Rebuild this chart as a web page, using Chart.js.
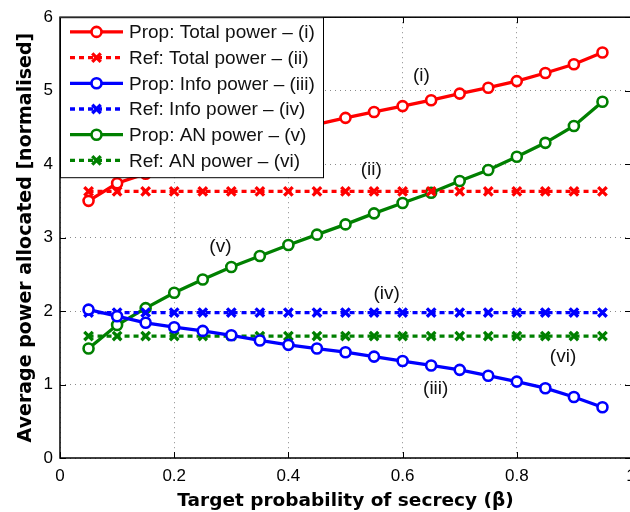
<!DOCTYPE html>
<html>
<head>
<meta charset="utf-8">
<title>Average power allocated</title>
<script src="https://cdn.jsdelivr.net/npm/chart.js@4.4.1/dist/chart.umd.min.js"></script>
<style>
  html, body { margin: 0; padding: 0; background: #fff; overflow: hidden; }
  #wrap { width: 644px; height: 512px; }
</style>
</head>
<body>
<div id="wrap"><canvas id="powerChart"></canvas></div>
<script>
// target probability of secrecy (beta)
const beta = [0.05, 0.10, 0.15, 0.20, 0.25, 0.30, 0.35, 0.40, 0.45, 0.50,
              0.55, 0.60, 0.65, 0.70, 0.75, 0.80, 0.85, 0.90, 0.95];

const propTotal = [3.50, 3.74, 3.87, 4.03, 4.16, 4.27, 4.36, 4.45, 4.54, 4.63,
                   4.71, 4.79, 4.87, 4.96, 5.04, 5.13, 5.24, 5.36, 5.52];
const refTotal  = [3.63, 3.63, 3.63, 3.63, 3.63, 3.63, 3.63, 3.63, 3.63, 3.63,
                   3.63, 3.63, 3.63, 3.63, 3.63, 3.63, 3.63, 3.63, 3.63];
const propInfo  = [2.02, 1.93, 1.84, 1.78, 1.73, 1.67, 1.60, 1.54, 1.49, 1.44,
                   1.38, 1.32, 1.26, 1.20, 1.12, 1.04, 0.95, 0.83, 0.69];
const refInfo   = [1.98, 1.98, 1.98, 1.98, 1.98, 1.98, 1.98, 1.98, 1.98, 1.98,
                   1.98, 1.98, 1.98, 1.98, 1.98, 1.98, 1.98, 1.98, 1.98];
const propAN    = [1.49, 1.81, 2.04, 2.25, 2.43, 2.60, 2.75, 2.90, 3.04, 3.18,
                   3.33, 3.47, 3.61, 3.77, 3.92, 4.10, 4.29, 4.52, 4.85];
const refAN     = [1.66, 1.66, 1.66, 1.66, 1.66, 1.66, 1.66, 1.66, 1.66, 1.66,
                   1.66, 1.66, 1.66, 1.66, 1.66, 1.66, 1.66, 1.66, 1.66];

const seriesLabels = [
  'Prop: Total power – (i)',
  'Ref: Total power – (ii)',
  'Prop: Info power – (iii)',
  'Ref: Info power – (iv)',
  'Prop: AN power – (v)',
  'Ref: AN power – (vi)'
];

const xTickLabels = ['0', '0.2', '0.4', '0.6', '0.8', '1'];
const yTickLabels = ['0', '1', '2', '3', '4', '5', '6'];

// curve tags, placed in data units
const noteText = ['(i)', '(ii)', '(iii)', '(iv)', '(v)', '(vi)'];
const noteX    = [0.633, 0.545, 0.658, 0.572, 0.281, 0.881];
const noteY    = [5.20, 3.93, 0.94, 2.23, 2.88, 1.38];

const RED = '#ff0000', BLUE = '#0000ff', GREEN = '#008000';
const FONT = '"Liberation Sans", Arial, sans-serif';
const BOLD = '"DejaVu Sans", sans-serif';

const toPoints = (ys) => beta.map((b, i) => ({ x: b, y: ys[i] }));

function propSet(label, ys, color) {
  return {
    label, data: toPoints(ys),
    borderColor: color, backgroundColor: '#ffffff',
    borderWidth: 3.3, pointStyle: 'circle', pointRadius: 5,
    pointBorderWidth: 2.6, pointBackgroundColor: '#ffffff', pointBorderColor: color
  };
}

function refSet(label, ys, color) {
  return {
    label, data: toPoints(ys),
    borderColor: color, backgroundColor: color,
    borderWidth: 3.3, borderDash: [5, 4], pointStyle: 'crossRot', pointRadius: 6,
    pointBorderWidth: 3.3, pointBorderColor: color
  };
}

function drawMarker(ctx, ds, px, py) {
  ctx.save();
  ctx.setLineDash([]);
  ctx.lineWidth = ds.pointBorderWidth;
  ctx.strokeStyle = ds.pointBorderColor;
  ctx.beginPath();
  if (ds.pointStyle === 'circle') {
    ctx.fillStyle = '#ffffff';
    ctx.arc(px, py, ds.pointRadius, 0, Math.PI * 2);
    ctx.fill();
  } else {
    const d = ds.pointRadius * Math.SQRT1_2;
    ctx.moveTo(px - d, py - d); ctx.lineTo(px + d, py + d);
    ctx.moveTo(px + d, py - d); ctx.lineTo(px - d, py + d);
  }
  ctx.stroke();
  ctx.restore();
}

// MATLAB-like frame: inward ticks, box, curve tags and the legend on top
const framePlugin = {
  id: 'matlabFrame',
  afterDatasetsDraw(chart) {
    const { ctx, chartArea: a, scales: { x, y } } = chart;
    ctx.save();

    ctx.strokeStyle = '#000';
    ctx.lineWidth = 1;
    ctx.beginPath();
    x.ticks.forEach(t => {
      const px = Math.round(x.getPixelForValue(t.value)) + 0.5;
      ctx.moveTo(px, a.bottom); ctx.lineTo(px, a.bottom - 6);
      ctx.moveTo(px, a.top); ctx.lineTo(px, a.top + 6);
    });
    y.ticks.forEach(t => {
      const py = Math.round(y.getPixelForValue(t.value)) + 0.5;
      ctx.moveTo(a.left, py); ctx.lineTo(a.left + 6, py);
      ctx.moveTo(a.right, py); ctx.lineTo(a.right - 6, py);
    });
    ctx.stroke();

    ctx.lineWidth = 1.5;
    ctx.strokeRect(a.left, a.top, a.right - a.left, a.bottom - a.top);

    ctx.fillStyle = '#111';
    ctx.font = '19px ' + FONT;
    ctx.textAlign = 'center';
    ctx.textBaseline = 'middle';
    noteText.forEach((s, i) => {
      ctx.fillText(s, x.getPixelForValue(noteX[i]), y.getPixelForValue(noteY[i]));
    });

    // legend box
    const lx = a.left, ly = a.top, lw = 263, lh = 160;
    ctx.fillStyle = '#fff';
    ctx.fillRect(lx, ly, lw, lh);
    ctx.lineWidth = 1;
    ctx.strokeStyle = '#000';
    ctx.strokeRect(lx + 0.5, ly + 0.5, lw, lh);

    ctx.textAlign = 'left';
    ctx.font = '19px ' + FONT;
    chart.data.datasets.forEach((ds, i) => {
      const cy = ly + 14.7 + i * 25.7;
      ctx.save();
      ctx.strokeStyle = ds.borderColor;
      ctx.lineWidth = ds.borderWidth;
      ctx.setLineDash(ds.borderDash || []);
      ctx.beginPath();
      ctx.moveTo(lx + 10, cy); ctx.lineTo(lx + 63, cy);
      ctx.stroke();
      ctx.restore();
      drawMarker(ctx, ds, lx + 36.5, cy);
      ctx.fillStyle = '#111';
      ctx.fillText(ds.label, lx + 69, cy + 1);
    });

    ctx.restore();
  }
};

new Chart(document.getElementById('powerChart'), {
  type: 'line',
  data: {
    datasets: [
      propSet(seriesLabels[0], propTotal, RED),
      refSet(seriesLabels[1], refTotal, RED),
      propSet(seriesLabels[2], propInfo, BLUE),
      refSet(seriesLabels[3], refInfo, BLUE),
      propSet(seriesLabels[4], propAN, GREEN),
      refSet(seriesLabels[5], refAN, GREEN)
    ]
  },
  options: {
    responsive: true,
    maintainAspectRatio: false,
    animation: false,
    layout: { padding: { left: 0, right: 13, top: 12, bottom: 0 } },
    plugins: { legend: { display: false }, tooltip: { enabled: false }, title: { display: false } },
    elements: { line: { tension: 0 } },
    scales: {
      x: {
        type: 'linear', min: 0, max: 1,
        afterFit: s => { s.height = 54; },
        grid: { color: '#8a8a8a', lineWidth: 1, drawTicks: false },
        border: { display: false, dash: [1, 4] },
        ticks: {
          stepSize: 0.2, padding: 8, color: '#000',
          font: { family: FONT, size: 17 },
          maxRotation: 0,
          callback: (v, i) => xTickLabels[i]
        },
        title: {
          display: true, text: 'Target probability of secrecy (β)', color: '#000',
          font: { family: BOLD, size: 18.5, weight: 'bold' },
          padding: { top: 7, bottom: 0 }
        }
      },
      y: {
        min: 0, max: 6,
        afterFit: s => { s.width = 60; },
        grid: { color: '#8a8a8a', lineWidth: 1, drawTicks: false },
        border: { display: false, dash: [1, 4] },
        ticks: {
          stepSize: 1, padding: 7, color: '#000',
          font: { family: FONT, size: 17 },
          callback: (v, i) => yTickLabels[i]
        },
        title: {
          display: true, text: 'Average power allocated [normalised]', color: '#000',
          font: { family: BOLD, size: 19, weight: 'bold' },
          padding: { top: 15, bottom: 0 }
        }
      }
    }
  },
  plugins: [framePlugin]
});
</script>
</body>
</html>
